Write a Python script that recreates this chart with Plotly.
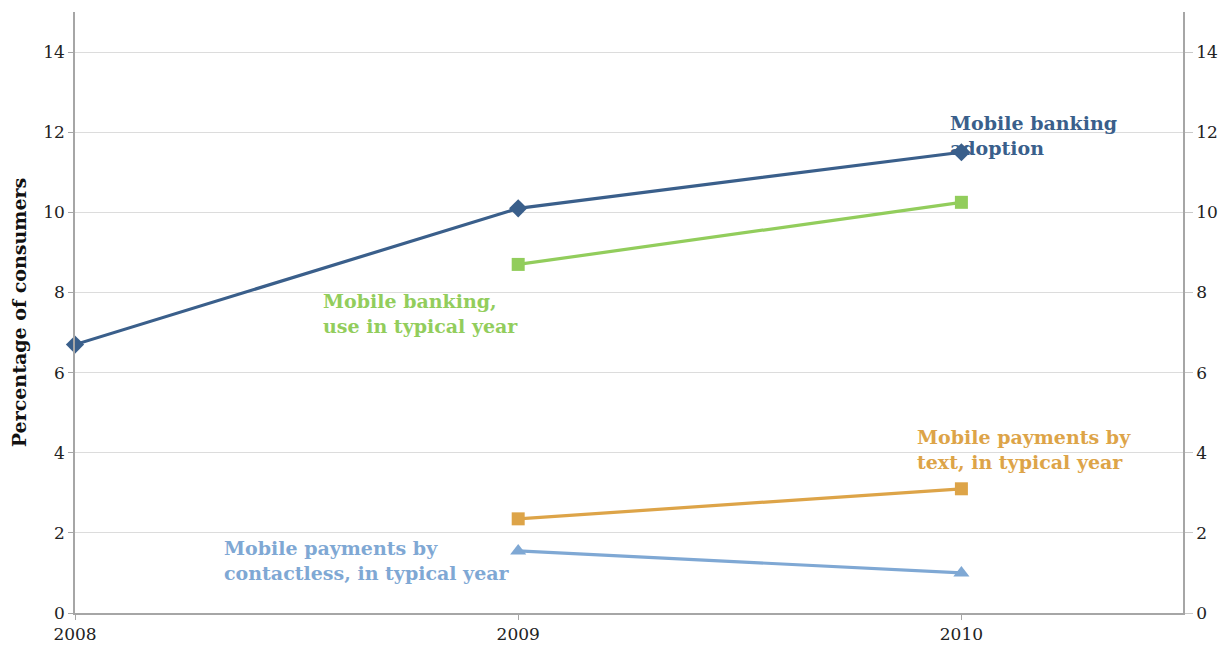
import plotly.graph_objects as go

# Survey years and share of consumers (%) for each mobile-finance measure
years_adoption = [2008, 2009, 2010]
banking_adoption = [6.7, 10.1, 11.5]

years_recent = [2009, 2010]
banking_use = [8.7, 10.25]
payments_text = [2.35, 3.1]
payments_contactless = [1.55, 1.0]

y_ticks = [0, 2, 4, 6, 8, 10, 12, 14]
x_ticks = [2008, 2009, 2010]

FONT = "DejaVu Serif"
C_ADOPT = "#3A5F8B"
C_USE = "#92CD5C"
C_TEXT = "#DDA448"
C_CONTACT = "#7FA8D4"

fig = go.Figure()

fig.add_trace(go.Scatter(
    x=years_adoption, y=banking_adoption, mode="lines+markers",
    line=dict(color=C_ADOPT, width=3.2),
    marker=dict(symbol="diamond", size=14, color=C_ADOPT),
    cliponaxis=False, showlegend=False))
fig.add_trace(go.Scatter(
    x=years_recent, y=banking_use, mode="lines+markers",
    line=dict(color=C_USE, width=3.2),
    marker=dict(symbol="square", size=13, color=C_USE),
    cliponaxis=False, showlegend=False))
fig.add_trace(go.Scatter(
    x=years_recent, y=payments_text, mode="lines+markers",
    line=dict(color=C_TEXT, width=3.2),
    marker=dict(symbol="square", size=13, color=C_TEXT),
    cliponaxis=False, showlegend=False))
fig.add_trace(go.Scatter(
    x=years_recent, y=payments_contactless, mode="lines+markers",
    line=dict(color=C_CONTACT, width=3.2),
    marker=dict(symbol="triangle-up", size=14, color=C_CONTACT),
    cliponaxis=False, showlegend=False))
# invisible trace to carry the mirrored right-hand axis
fig.add_trace(go.Scatter(x=[2008], y=[0], yaxis="y2", mode="markers",
                         marker=dict(opacity=0), hoverinfo="skip", showlegend=False))

labels = [
    ("Mobile banking<br>adoption", 2009.97, 11.93, C_ADOPT),
    ("Mobile banking,<br>use in typical year", 2008.555, 7.48, C_USE),
    ("Mobile payments by<br>text, in typical year", 2009.895, 4.09, C_TEXT),
    ("Mobile payments by<br>contactless, in typical year", 2008.332, 1.31, C_CONTACT),
]
for text, x, y, color in labels:
    fig.add_annotation(x=x, y=y, xref="x", yref="y", text=f"<b>{text}</b>",
                       showarrow=False, xanchor="left", yanchor="middle", align="left",
                       font=dict(family=FONT, size=19, color=color))

axis_font = dict(family=FONT, size=17, color="#222222")
fig.update_layout(
    width=1227, height=649,
    margin=dict(l=75, r=44, t=12, b=36),
    paper_bgcolor="white", plot_bgcolor="white",
    xaxis=dict(range=[2008, 2010.5], tickvals=x_ticks, ticktext=[str(v) for v in x_ticks],
               showgrid=False, zeroline=False, showline=True, linecolor="#A6A6A6",
               linewidth=1.5, ticks="outside", ticklen=5, tickcolor="#A6A6A6",
               tickfont=axis_font, automargin=False),
    yaxis=dict(range=[0, 15], tickvals=y_ticks, showgrid=True, gridcolor="#DCDCDC",
               gridwidth=1, zeroline=False, showline=True, linecolor="#A6A6A6",
               linewidth=1.5, ticks="outside", ticklen=5, tickcolor="#A6A6A6",
               tickfont=axis_font, automargin=False,
               title=dict(text="<b>Percentage of consumers</b>", standoff=12,
                          font=dict(family=FONT, size=19, color="#111111"))),
    yaxis2=dict(range=[0, 15], tickvals=y_ticks, overlaying="y", side="right",
                showgrid=False, zeroline=False, showline=True, linecolor="#A6A6A6",
                linewidth=1.5, ticks="outside", ticklen=8, tickcolor="#C8C8C8",
                tickfont=axis_font, automargin=False),
)

fig.write_html("out.html")
